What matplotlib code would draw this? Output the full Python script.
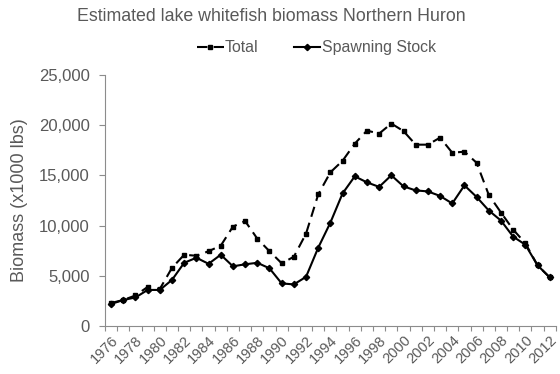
import matplotlib
matplotlib.use('Agg')
import matplotlib.pyplot as plt

plt.rcParams['font.family'] = ['Liberation Sans', 'DejaVu Sans']

years = list(range(1976, 2013))
total = [2300, 2600, 3050, 3900, 3700, 5800, 7100, 7000, 7450, 8000,
         9900, 10450, 8700, 7450, 6250, 6900, 9200, 13100, 15300, 16450,
         18150, 19450, 19150, 20150, 19400, 18050, 18050, 18750, 17250, 17350,
         16250, 13050, 11300, 9600, 8250, 6050, 4850]
spawning = [2200, 2600, 2850, 3600, 3600, 4600, 6300, 6800, 6200, 7100,
            5950, 6150, 6300, 5750, 4250, 4150, 4900, 7800, 10300, 13200,
            14900, 14300, 13850, 15000, 13900, 13500, 13400, 12950, 12200, 14000,
            12850, 11500, 10500, 8900, 8100, 6050, 4850]
year_labels = [str(y) for y in years[::2]]

gray = '#595959'
axis_gray = '#8c8c8c'

fig = plt.figure(figsize=(5.6, 3.74), dpi=100)
ax = fig.add_axes([0.1875, 0.128, 0.805, 0.672])

x = list(range(len(years)))
l1, = ax.plot(x, total, color='black', linestyle=(0, (5, 3)), linewidth=1.5,
              marker='s', markersize=3.5, label='Total')
l2, = ax.plot(x, spawning, color='black', linestyle='-', linewidth=1.5,
              marker='D', markersize=3.2, label='Spawning Stock')

ax.set_xlim(-0.5, len(years) - 0.5)
ax.set_ylim(0, 25000)
ax.set_yticks(range(0, 25001, 5000))
ax.set_yticklabels(['{:,}'.format(v) for v in range(0, 25001, 5000)])

# ticks between categories, labels on every other category
ax.set_xticks([i - 0.5 for i in range(len(years) + 1)])
ax.set_xticklabels([])
ax.set_xticks(x[::2], minor=True)
ax.set_xticklabels(year_labels, minor=True, rotation=45, ha='right',
                   rotation_mode='anchor')
ax.tick_params(axis='x', which='minor', length=0, pad=5, labelsize=10.5)
ax.tick_params(axis='x', which='major', length=3.5, color=axis_gray)
ax.tick_params(axis='y', length=4, color=axis_gray, pad=7, labelsize=12)
ax.tick_params(axis='both', which='both', labelcolor=gray)

for s in ['top', 'right']:
    ax.spines[s].set_visible(False)
for s in ['left', 'bottom']:
    ax.spines[s].set_color(axis_gray)

ax.set_ylabel('Biomass (x1000 lbs)', fontsize=13, color=gray, labelpad=8)

fig.text(0.484, 0.955, 'Estimated lake whitefish biomass Northern Huron',
         ha='center', va='center', fontsize=12.8, color=gray)
fig.legend(handles=[l1, l2], loc='center', bbox_to_anchor=(0.565, 0.872),
           ncol=2, frameon=False, fontsize=11.4, labelcolor=gray,
           handlelength=1.7, handletextpad=0.1, columnspacing=2.2)

fig.savefig('out.png', dpi=100)
